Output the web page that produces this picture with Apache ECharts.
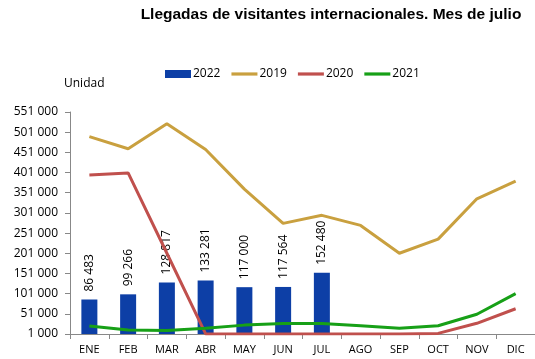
<!DOCTYPE html>
<html><head><meta charset="utf-8">
<script src="https://cdn.jsdelivr.net/npm/echarts@6/dist/echarts.min.js"></script>
<style>html,body{margin:0;padding:0;background:#fff}#c{width:535px;height:359px}</style>
</head><body><div id="c"></div>
<script>
const categories = ['ENE','FEB','MAR','ABR','MAY','JUN','JUL','AGO','SEP','OCT','NOV','DIC'];
const v2022 = [86483, 99266, 128817, 133281, 117000, 117564, 152480];
const v2019 = [490000, 460000, 522000, 458000, 360000, 275000, 295000, 270000, 201000, 236000, 336000, 380000];
const v2020 = [395000, 400000, 201000, 1200, 1100, 1100, 1200, 1300, 1300, 2500, 27500, 63500];
const v2021 = [21000, 11000, 9500, 15000, 23000, 27000, 27000, 21500, 15500, 21500, 50000, 101000];
const yTicks = {min: 1000, max: 551000, interval: 50000};

const fmt = v => String(Math.round(v)).replace(/\B(?=(\d{3})+(?!\d))/g, ' ');
const font = 'Open Sans';
const lineIcon = 'path://M0,0 H26 V3.2 H0 Z';
const chart = echarts.init(document.getElementById('c'));
chart.setOption({
  animation: false,
  title: {text: 'Llegadas de visitantes internacionales. Mes de julio', left: 326, textAlign: 'center', top: 2,
    textStyle: {fontFamily: 'Liberation Sans', fontWeight: 'bold', fontSize: 15.5, color: '#000'}},
  legend: {left: 160, top: 63, itemWidth: 26, itemHeight: 8, itemGap: 11,
    textStyle: {fontFamily: font, fontSize: 12, color: '#000', padding: [0,0,0,-3]},
    data: [{name: '2022', icon: 'rect'}, {name: '2019', icon: lineIcon}, {name: '2020', icon: lineIcon}, {name: '2021', icon: lineIcon}]},
  grid: {left: 70, right: 0, top: 112, bottom: 25, containLabel: false},
  xAxis: {type: 'category', data: categories,
    axisLine: {lineStyle: {color: '#888'}},
    axisTick: {show: true, length: 5, lineStyle: {color: '#888'}},
    axisLabel: {fontFamily: font, fontSize: 11, color: '#000', margin: 10}},
  yAxis: {type: 'value', min: yTicks.min, max: yTicks.max, interval: yTicks.interval,
    name: 'Unidad', nameGap: 22, nameTextStyle: {fontFamily: font, fontSize: 12, color: '#000', align: 'left', padding: [0,0,0,-6]},
    axisLine: {show: true, lineStyle: {color: '#888'}},
    axisTick: {show: true, length: 5, lineStyle: {color: '#888'}},
    splitLine: {show: false},
    axisLabel: {fontFamily: font, fontSize: 12, color: '#000', margin: 12, formatter: fmt}},
  series: [
    {name: '2022', type: 'bar', data: v2022, barWidth: 16, itemStyle: {color: '#0d3fa6'},
      label: {show: true, position: 'top', rotate: 90, align: 'left', verticalAlign: 'middle', distance: 8,
        fontFamily: font, fontSize: 12, color: '#000', formatter: p => fmt(p.value)}},
    {name: '2019', type: 'line', data: v2019, symbol: 'none', lineStyle: {color: '#c9a03f', width: 3}, itemStyle: {color: '#c9a03f'}},
    {name: '2020', type: 'line', data: v2020, symbol: 'none', lineStyle: {color: '#c0504d', width: 3}, itemStyle: {color: '#c0504d'}},
    {name: '2021', type: 'line', data: v2021, symbol: 'none', lineStyle: {color: '#17a017', width: 3}, itemStyle: {color: '#17a017'}}
  ]
});
</script></body></html>
